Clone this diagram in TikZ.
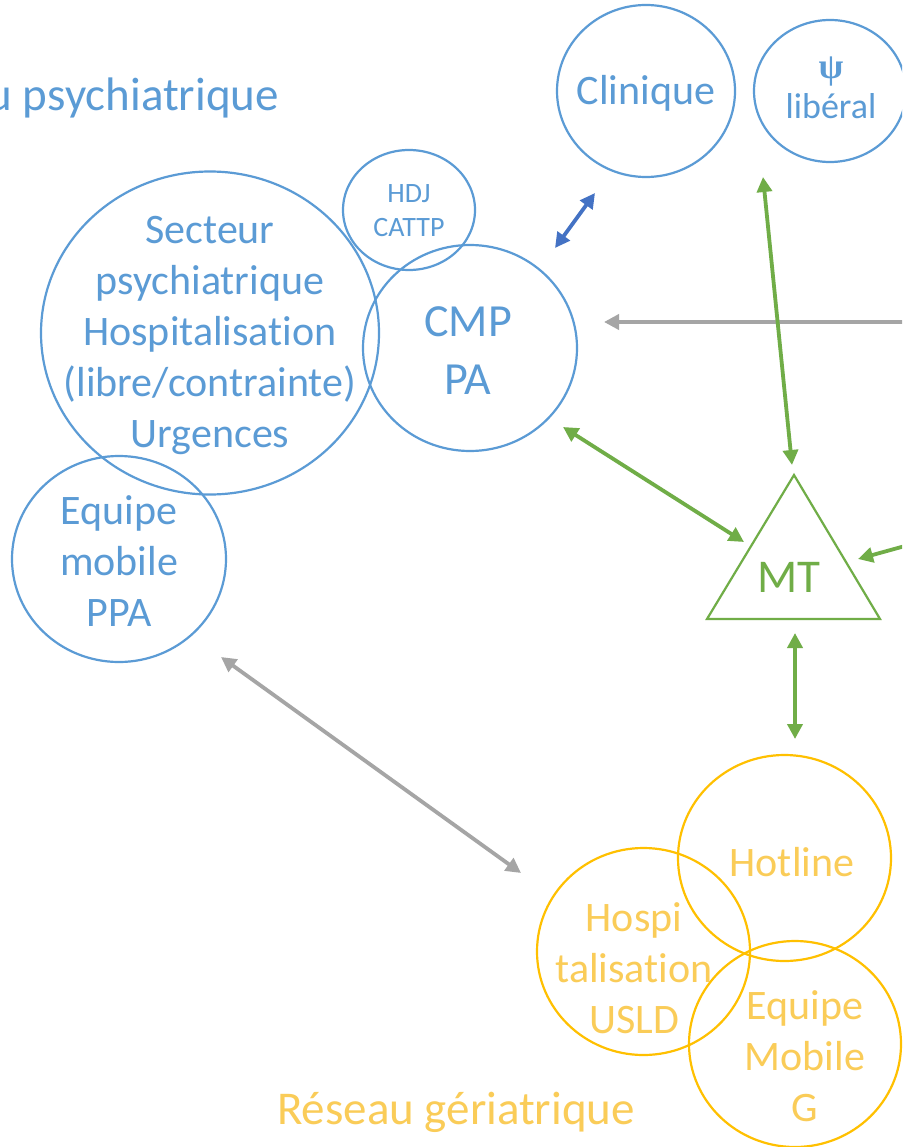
\documentclass[tikz,border=0pt]{standalone}
\usepackage{fontspec}
\setmainfont{Carlito}[RawFeature={-liga}]
\newfontfamily\psifont{Liberation Serif}
\usetikzlibrary{shapes.geometric,arrows.meta}
\definecolor{pblue}{HTML}{5B9BD5}
\definecolor{dblue}{HTML}{4472C4}
\definecolor{pgreen}{HTML}{70AD47}
\definecolor{pgrey}{HTML}{A5A5A5}
\definecolor{pyel}{HTML}{FFC000}
\definecolor{pyeltxt}{RGB}{250,204,88}
\tikzset{
  ell/.style={draw,ellipse,line width=2.2pt,inner sep=0pt},
  bell/.style={ell,draw=pblue},
  yell/.style={ell,draw=pyel},
  btxt/.style={text=pblue,align=center,inner sep=0pt},
  ytxt/.style={text=pyeltxt,align=center,inner sep=0pt},
  big/.style={font=\fontsize{42}{51}\selectfont},
  arr/.style={line width=3.8pt,-{Triangle[length=15pt,width=15pt]}},
  darr/.style={line width=3.8pt,{Triangle[length=15pt,width=15pt]}-{Triangle[length=15pt,width=15pt]}},
}
\begin{document}
\begin{tikzpicture}[x=1pt,y=-1pt]
\useasboundingbox (0,0) rectangle (902,1147);
\clip (0,0) rectangle (902,1147);
\fill[white] (0,0) rectangle (902,1147);

% titles
\node[btxt,anchor=east,font=\fontsize{47}{56}\selectfont] (titleP) at (279,98) {u psychiatrique};
\node[ytxt,font=\fontsize{47}{56}\selectfont] (titleG) at (456,1112) {Réseau gériatrique};

% psychiatric circles
\node[bell,minimum width=338pt,minimum height=323pt] (sect) at (210,333) {};
\node[btxt,big] (sectT) at (210,335.5) {Secteur\\psychiatrique\\Hospitalisation\\(libre/contrainte)\\Urgences};
\node[bell,minimum width=132pt,minimum height=120pt] (hdj) at (409,210) {};
\node[btxt,font=\fontsize{28}{34}\selectfont] (hdjT) at (409,211) {HDJ\\CATTP};
\node[bell,minimum width=214pt,minimum height=206pt] (cmp) at (470,348) {};
\node[btxt,font=\fontsize{46}{58}\selectfont] (cmpT) at (468,351) {CMP\\PA};
\node[bell,minimum width=214pt,minimum height=206pt] (ppa) at (119,559) {};
\node[btxt,big] (ppaT) at (119,561) {Equipe\\mobile\\PPA};
\node[bell,minimum width=178pt,minimum height=172pt] (clin) at (646,91) {};
\node[btxt,font=\fontsize{42}{51}\selectfont] (clinT) at (646,93) {Clinique};
\node[bell,minimum width=152pt,minimum height=142pt] (lib) at (830,91) {};
\node[btxt,font=\fontsize{36}{40}\selectfont] (libT) at (831,88) {{\psifont\bfseries\fontsize{36}{40}\selectfont ψ}\\libéral};

% MT triangle
\coordinate (mtA) at (794,475);
\coordinate (mtL) at (707,619);
\coordinate (mtR) at (880,619);
\draw[pgreen,line width=2.2pt,line join=miter] (mtA) -- (mtL) -- (mtR) -- cycle;
\node[text=pgreen,inner sep=0pt,font=\fontsize{47}{56}\selectfont] (mt) at (789,577) {MT};

% geriatric circles
\node[yell,minimum width=213pt,minimum height=206pt] (hot) at (784.5,858) {};
\node[ytxt,big] (hotT) at (792,862) {Hotline};
\node[yell,minimum width=213pt,minimum height=207pt] (usld) at (643.5,951.5) {};
\node[ytxt,big] (usldT) at (634,968) {Hospi\\talisation\\USLD};
\node[yell,minimum width=212pt,minimum height=206pt] (emg) at (795,1044) {};
\node[ytxt,big] (emgT) at (805,1056) {Equipe\\Mobile\\G};

% arrow end points
\coordinate (cmpC) at (555,248);
\coordinate (clinC) at (595,193);
\coordinate (rightG) at (905,322);
\coordinate (cmpG) at (604,322);
\coordinate (libM) at (763,177);
\coordinate (mtLib) at (792,465);
\coordinate (cmpM) at (563,427);
\coordinate (mtCmp) at (744,542);
\coordinate (rightM) at (905,546);
\coordinate (mtRight) at (858,559);
\coordinate (mtHot) at (795,633);
\coordinate (hotMt) at (795,739);
\coordinate (ppaG) at (221,657);
\coordinate (gerG) at (521,873);

\draw[darr,dblue] (cmpC) -- (clinC);
\draw[arr,pgrey] (rightG) -- (cmpG);
\draw[darr,pgreen] (libM) -- (mtLib);
\draw[darr,pgreen] (cmpM) -- (mtCmp);
\draw[arr,pgreen] (rightM) -- (mtRight);
\draw[darr,pgreen] (mtHot) -- (hotMt);
\draw[darr,pgrey] (ppaG) -- (gerG);
\end{tikzpicture}
\end{document}
